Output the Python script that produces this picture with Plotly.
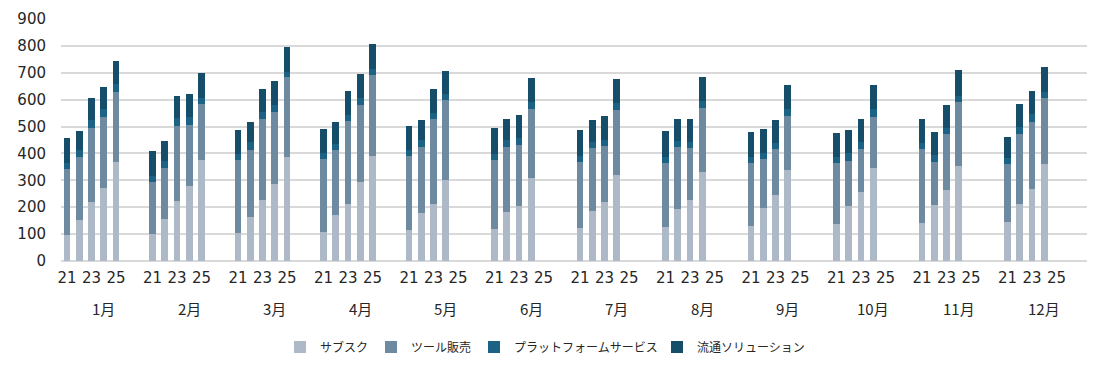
import plotly.graph_objects as go

months = ["1月", "2月", "3月", "4月", "5月", "6月", "7月", "8月", "9月", "10月", "11月", "12月"]
years = ["21", "22", "23", "24", "25"]
shown_year_labels = ["21", "23", "25"]

series_names = ["サブスク", "ツール販売", "プラットフォームサービス", "流通ソリューション"]

subscription = [
    [95, 152, 219, 273, 368], [99, 156, 223, 279, 377], [103, 162, 227, 287, 385],
    [108, 170, 211, 295, 392], [115, 177, 211, 301], [119, 182, 204, 309],
    [123, 186, 219, 321], [126, 193, 227, 331], [131, 197, 245, 338],
    [138, 203, 255, 346], [143, 208, 264, 353], [145, 213, 268, 362],
]
tool_sales = [
    [247, 236, 277, 262, 260], [195, 191, 280, 227, 208], [272, 251, 301, 268, 299],
    [271, 243, 311, 285, 301], [277, 248, 318, 298], [256, 243, 227, 257],
    [245, 235, 209, 240], [237, 232, 194, 238], [233, 182, 173, 201],
    [226, 169, 163, 191], [275, 160, 209, 239], [217, 260, 250, 244],
]
platform = [
    [24, 25, 28, 29, 29], [22, 26, 30, 28, 20], [23, 31, 25, 25, 20],
    [21, 24, 21, 28, 21], [21, 25, 22, 21], [23, 25, 25, 26],
    [24, 23, 22, 25], [25, 22, 23, 26], [24, 21, 22, 26],
    [24, 28, 26, 27], [22, 26, 23, 21], [20, 26, 28, 23],
]
distribution = [
    [92, 72, 82, 84, 86], [93, 72, 82, 88, 93], [91, 73, 88, 88, 93],
    [91, 80, 89, 86, 93], [90, 74, 87, 85], [98, 77, 88, 88],
    [94, 80, 88, 91], [95, 82, 85, 91], [92, 91, 84, 89],
    [88, 86, 83, 90], [88, 86, 86, 97], [78, 85, 86, 93],
]

colors = ["#ADB9C6", "#6E8AA0", "#1B6285", "#164D69"]
SLOTS = 7  # 5 year slots + 2 blank slots per month group

FONT = "DejaVu Sans"
JP_FONT = "Noto Sans CJK JP, Meiryo UI, sans-serif"

fig = go.Figure()
all_series = [subscription, tool_sales, platform, distribution]
legend_ids = ["legend", "legend2", "legend3", "legend4"]
for name, data, color, lg in zip(series_names, all_series, colors, legend_ids):
    xs, ys, hov = [], [], []
    for m, vals in enumerate(data):
        for j, v in enumerate(vals):
            xs.append(m * SLOTS + j)
            ys.append(v)
            hov.append(f"{months[m]} {years[j]}")
    fig.add_trace(go.Bar(
        x=xs, y=ys, name=name, marker=dict(color=color, line=dict(width=0)),
        width=0.55, legend=lg, hovertext=hov,
    ))

tickvals, ticktext = [], []
for m in range(len(months)):
    for j, y in enumerate(years):
        if y in shown_year_labels:
            tickvals.append(m * SLOTS + j)
            ticktext.append(y)

# the page body adds an 8px margin, so the figure is drawn 8px smaller
fig.update_layout(
    barmode="stack",
    width=1098, height=359,
    margin=dict(l=53, r=19, t=11, b=106, autoexpand=False),
    paper_bgcolor="white", plot_bgcolor="white",
    font=dict(family=FONT, size=15, color="#262626"),
    xaxis=dict(
        range=[-0.5, len(months) * SLOTS - 0.5],
        tickmode="array", tickvals=tickvals, ticktext=ticktext,
        showgrid=False, zeroline=False, showline=False, ticks="",
        tickfont=dict(family=FONT, size=15, color="#262626"),
        ticklabelstandoff=6, automargin=False,
    ),
    yaxis=dict(
        range=[0, 900], dtick=100, tick0=0,
        showgrid=True, gridcolor="#D9D9D9", gridwidth=1.5,
        zeroline=True, zerolinecolor="#D9D9D9", zerolinewidth=1.5,
        showline=False, ticks="",
        tickfont=dict(family=FONT, size=15, color="#262626"),
        ticklabelstandoff=14, automargin=False,
    ),
    showlegend=True,
)

# month group labels
for m, mo in enumerate(months):
    fig.add_annotation(
        x=m * SLOTS + 3, y=-0.198, xref="x", yref="paper",
        text=mo, showarrow=False, xanchor="center", yanchor="middle",
        font=dict(family=JP_FONT, size=15, color="#262626"),
    )

# legends (one per entry to position each like the reference)
plot_l, plot_w = 61, 1026
text_starts = [320, 411, 514, 697]
for lg, ts in zip(legend_ids, text_starts):
    fig.update_layout({lg: dict(
        x=(ts - 40 - plot_l) / plot_w, xanchor="left",
        y=-0.355, yanchor="middle", orientation="h",
        bgcolor="rgba(0,0,0,0)", borderwidth=0,
        font=dict(family=JP_FONT, size=12, color="#262626"),
    )})

fig.write_html("out.html")
